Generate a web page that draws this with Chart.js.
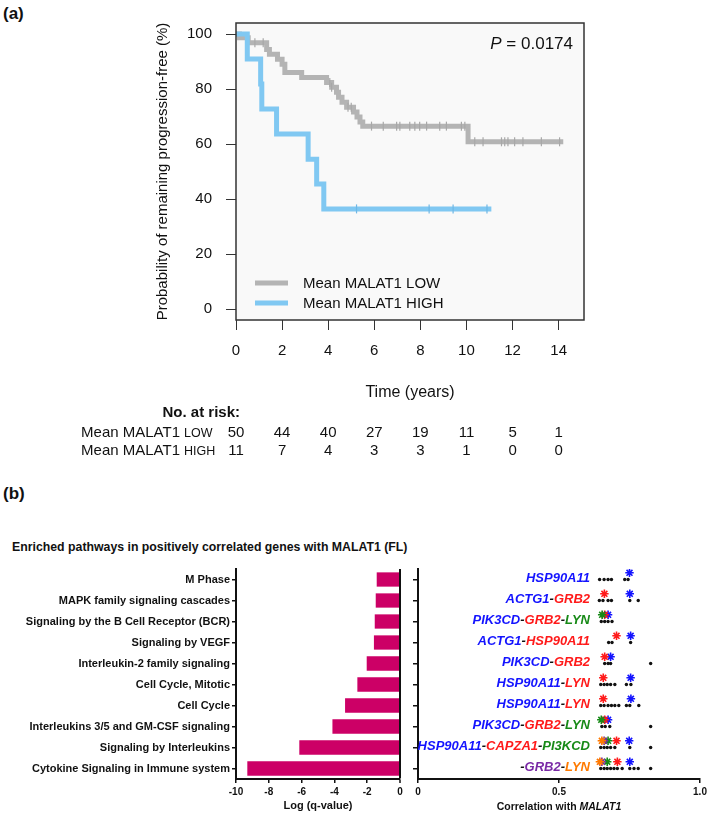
<!DOCTYPE html>
<html><head><meta charset="utf-8">
<script src="https://cdn.jsdelivr.net/npm/chart.js@4.4.1/dist/chart.umd.min.js"></script>
<style>
html,body{margin:0;padding:0;background:#fff;width:710px;height:815px;overflow:hidden;font-family:"Liberation Sans",Arial,sans-serif;color:#111;}
.abs{position:absolute;}
canvas{position:absolute;}
</style></head><body>
<div class="abs" style="left:3px;top:4px;font:bold 17px 'Liberation Sans',Arial;">(a)</div>
<canvas id="cA" width="710" height="470" style="left:0;top:0;width:710px;height:470px;"></canvas>
<div class="abs" style="left:3px;top:484px;font:bold 17px 'Liberation Sans',Arial;">(b)</div>
<div class="abs" style="left:12px;top:540px;font:bold 12.3px 'Liberation Sans',Arial;white-space:nowrap;">Enriched pathways in positively correlated genes with MALAT1 (FL)</div>
<canvas id="cB1" width="410" height="265" style="left:0;top:550px;width:410px;height:265px;"></canvas>
<canvas id="cB2" width="300" height="265" style="left:410px;top:550px;width:300px;height:265px;"></canvas>
<div class="abs" style="left:418px;width:282px;top:800px;text-align:center;font:bold 10.5px 'Liberation Sans',Arial;white-space:nowrap;">Correlation with <i>MALAT1</i></div>
<script>
// ---------- (a) Kaplan-Meier data ----------
const kmTicksX = [0, 2, 4, 6, 8, 10, 12, 14];
const kmTicksY = [0, 20, 40, 60, 80, 100];
const lowT = [0, 0.15, 0.53, 1.33, 1.45, 1.8, 2.0, 2.12, 2.85, 3.93, 4.15, 4.36, 4.45, 4.6, 4.8, 5.1, 5.25, 5.38, 5.5, 10.07, 14.2];
const lowS = [100, 98.6, 96.8, 94.4, 92.6, 90.8, 89.0, 86.0, 84.2, 82.4, 80.6, 78.8, 77.0, 75.2, 73.4, 71.6, 69.8, 68.0, 66.5, 60.8, 60.8];
const highT = [0, 0.49, 1.07, 1.12, 1.76, 3.13, 3.5, 3.81, 11.08];
const highS = [100, 90.9, 81.8, 72.7, 63.6, 54.5, 45.5, 36.4, 36.4];
const lowCensor = [0.82, 1.18, 4.07, 4.15, 4.86, 5.0, 5.88, 6.39, 6.97, 7.11, 7.54, 7.76, 7.97, 8.27, 8.84, 9.13, 9.78, 9.93, 10.36, 10.72, 11.52, 11.66, 11.80, 12.09, 12.45, 13.25, 14.04];
const highCensor = [5.23, 8.38, 9.42, 10.89];
const riskTimes = [0, 2, 4, 6, 8, 10, 12, 14];
const riskLow = [50, 44, 40, 27, 19, 11, 5, 1];
const riskHigh = [11, 7, 4, 3, 3, 1, 0, 0];
const pValueText = '= 0.0174';

// ---------- (b) pathway enrichment data ----------
const pathways = ['M Phase', 'MAPK family signaling cascades', 'Signaling by the B Cell Receptor (BCR)', 'Signaling by VEGF', 'Interleukin-2 family signaling', 'Cell Cycle, Mitotic', 'Cell Cycle', 'Interleukins 3/5 and GM-CSF signaling', 'Signaling by Interleukins', 'Cytokine Signaling in Immune system'];
const logQ = [-1.42, -1.48, -1.54, -1.59, -2.03, -2.6, -3.35, -4.12, -6.14, -9.31];
const logQTicks = [-10, -8, -6, -4, -2, 0];

// ---------- (b) correlation panel data ----------
const corrTicks = [0, 0.5, 1];
const geneLabels = [
  [['HSP90A11','b']],
  [['ACTG1','b'],['-','k'],['GRB2','r']],
  [['PIK3CD','b'],['-','k'],['GRB2','r'],['-','k'],['LYN','g']],
  [['ACTG1','b'],['-','k'],['HSP90A11','r']],
  [['PIK3CD','b'],['-','k'],['GRB2','r']],
  [['HSP90A11','b'],['-','k'],['LYN','r']],
  [['HSP90A11','b'],['-','k'],['LYN','r']],
  [['PIK3CD','b'],['-','k'],['GRB2','r'],['-','k'],['LYN','g']],
  [['HSP90A11','b'],['-','k'],['CAPZA1','r'],['-','k'],['PI3KCD','g']],
  [['-','k'],['GRB2','p'],['-','k'],['LYN','o']]
];
const corrDots = [
  [0.644, 0.660, 0.674, 0.686, 0.733, 0.745],
  [0.643, 0.656, 0.674, 0.686, 0.751, 0.781],
  [0.650, 0.662, 0.674, 0.688],
  [0.676, 0.688, 0.754],
  [0.662, 0.674, 0.683, 0.825],
  [0.648, 0.660, 0.671, 0.683, 0.698, 0.739, 0.755],
  [0.648, 0.660, 0.674, 0.686, 0.698, 0.712, 0.739, 0.751, 0.783],
  [0.652, 0.664, 0.680, 0.825],
  [0.648, 0.660, 0.671, 0.683, 0.698, 0.751, 0.825],
  [0.648, 0.660, 0.671, 0.683, 0.695, 0.707, 0.724, 0.751, 0.766, 0.781, 0.825]
];
const starsBlue = [[0,0.750],[1,0.751],[2,0.674],[3,0.754],[4,0.683],[5,0.754],[6,0.755],[7,0.674],[8,0.749],[9,0.751]];
const starsRed = [[1,0.661],[2,0.662],[3,0.704],[4,0.662],[5,0.657],[6,0.657],[7,0.662],[8,0.704],[9,0.707]];
const starsGreen = [[2,0.653],[7,0.650],[8,0.674],[9,0.671]];
const starsPurple = [[8,0.660],[9,0.652]];
const starsOrange = [[8,0.652],[9,0.645]];

// ---------- styles ----------
const FONT = "'Liberation Sans', Arial, sans-serif";
Chart.defaults.font.family = FONT;
Chart.defaults.color = '#111';
const GRAY = '#b4b4b4', BLUE = '#80c8f2', MAGENTA = '#cc0066', AXIS = '#111';
const GENE_COL = {b:'#1414ff', r:'#ff1a1a', g:'#178a17', p:'#7a2aa6', o:'#ff7a00', k:'#111'};

function stepAt(T, S, t){ let v = S[0]; for (let i=0;i<T.length;i++){ if (T[i] <= t) v = S[i]; } return v; }

const kmPlugin = {
  id: 'km',
  beforeDraw(chart){
    const {ctx, chartArea:a} = chart;
    ctx.save(); ctx.fillStyle = '#f9f9f9';
    ctx.fillRect(a.left, a.top, a.right-a.left, a.bottom-a.top); ctx.restore();
  },
  afterDatasetsDraw(chart){
    const {ctx, chartArea:a} = chart;
    ctx.save();
    ctx.strokeStyle = '#333'; ctx.lineWidth = 1.5;
    ctx.strokeRect(a.left, a.top, a.right-a.left, a.bottom-a.top);
    // legend
    const items = [[GRAY,'Mean MALAT1 LOW'],[BLUE,'Mean MALAT1 HIGH']];
    ctx.font = '15px ' + FONT; ctx.textBaseline = 'middle'; ctx.fillStyle = '#111';
    items.forEach((it, i) => {
      const y = a.bottom - 37 + i*20;
      ctx.strokeStyle = it[0]; ctx.lineWidth = 5;
      ctx.beginPath(); ctx.moveTo(a.left+19, y); ctx.lineTo(a.left+52, y); ctx.stroke();
      ctx.fillText(it[1], a.left+67, y+1);
    });
    // P value
    ctx.font = '17px ' + FONT; ctx.textAlign = 'right';
    const xr = a.right - 11, yp = a.top + 21;
    ctx.fillText(' ' + pValueText, xr, yp);
    const w = ctx.measureText(' ' + pValueText).width;
    ctx.font = 'italic 17px ' + FONT;
    ctx.fillText('P', xr - w, yp);
    ctx.restore();
  },
  afterDraw(chart){
    const {ctx} = chart; const xs = chart.scales.x;
    ctx.save(); ctx.fillStyle = '#111'; ctx.textBaseline = 'alphabetic';
    ctx.font = 'bold 15px ' + FONT; ctx.textAlign = 'right';
    ctx.fillText('No. at risk:', 240, 417);
    const rows = [['LOW', riskLow, 437], ['HIGH', riskHigh, 455]];
    rows.forEach(r => {
      ctx.font = '15px ' + FONT; ctx.textAlign = 'right';
      ctx.fillText('Mean MALAT1', 180, r[2]);
      ctx.font = '12.5px ' + FONT; ctx.textAlign = 'left';
      ctx.fillText(r[0], 184, r[2]);
      ctx.font = '15px ' + FONT; ctx.textAlign = 'center';
      r[1].forEach((n, i) => ctx.fillText(String(n), xs.getPixelForValue(riskTimes[i]), r[2]));
    });
    ctx.restore();
  }
};

new Chart(document.getElementById('cA'), {
  type: 'scatter',
  data: { datasets: [
    { label:'Mean MALAT1 LOW', data: lowT.map((t,i)=>({x:t, y:lowS[i]})), showLine:true, stepped:true,
      borderColor:GRAY, borderWidth:5, pointRadius:0, order:3 },
    { label:'Mean MALAT1 HIGH', data: highT.map((t,i)=>({x:t, y:highS[i]})), showLine:true, stepped:true,
      borderColor:BLUE, borderWidth:5, pointRadius:0, order:2 },
    { label:'censor LOW', data: lowCensor.map(t=>({x:t, y:stepAt(lowT, lowS, t)})), showLine:false,
      pointStyle:'line', rotation:90, pointRadius:4.5, borderColor:'#a8a8a8', borderWidth:1.2, order:1 },
    { label:'censor HIGH', data: highCensor.map(t=>({x:t, y:stepAt(highT, highS, t)})), showLine:false,
      pointStyle:'line', rotation:90, pointRadius:4.5, borderColor:'#6fb8e6', borderWidth:1.2, order:0 }
  ]},
  options: {
    responsive:false, animation:false, devicePixelRatio:1,
    layout:{padding:{left:150, top:20, right:126, bottom:65}},
    plugins:{legend:{display:false}, tooltip:{enabled:false}},
    scales:{
      x:{ type:'linear', min:0, max:15.1,
        afterBuildTicks: s => { s.ticks = kmTicksX.map(v=>({value:v})); },
        ticks:{font:{size:15}, color:'#111', padding:12, maxRotation:0, autoSkip:false},
        grid:{drawOnChartArea:false, tickLength:10, color:'#333', lineWidth:1},
        border:{display:false},
        title:{display:true, text:'Time (years)', font:{size:16}, color:'#111', padding:{top:0, bottom:3}},
        afterFit: s => { s.height = 85; } },
      y:{ type:'linear', min:-4, max:104,
        afterBuildTicks: s => { s.ticks = kmTicksY.map(v=>({value:v})); },
        ticks:{font:{size:15}, color:'#111', padding:14},
        grid:{drawOnChartArea:false, tickLength:10, color:'#333', lineWidth:1},
        border:{display:false},
        title:{display:true, text:'Probability of remaining progression-free (%)', font:{size:15}, color:'#111', padding:{top:4, bottom:0}},
        afterFit: s => { s.width = 86; } }
    }
  },
  plugins:[kmPlugin]
});

// ---------- (b) bar chart ----------
new Chart(document.getElementById('cB1'), {
  type:'bar',
  data:{ labels: pathways, datasets:[{ data: logQ, backgroundColor: MAGENTA, barPercentage:0.68, categoryPercentage:1 }]},
  options:{
    indexAxis:'y', responsive:false, animation:false, devicePixelRatio:1,
    layout:{padding:{left:0, right:10, top:19, bottom:0}},
    plugins:{legend:{display:false}, tooltip:{enabled:false}},
    scales:{
      x:{ min:-10, max:0,
        afterBuildTicks: s => { s.ticks = logQTicks.map(v=>({value:v})); },
        ticks:{font:{size:10, weight:'bold'}, color:'#111', padding:3, maxRotation:0, autoSkip:false},
        grid:{drawOnChartArea:true, color: c => (c.tick && c.tick.value === 0) ? AXIS : 'rgba(0,0,0,0)',
              lineWidth: c => (c.tick && c.tick.value === 0) ? 2 : 1.5, tickColor:AXIS, tickWidth:1.5, tickLength:4},
        border:{display:true, color:AXIS, width:2},
        title:{display:true, text:'Log (q-value)', font:{size:11, weight:'bold'}, color:'#111', padding:{top:0, bottom:2}},
        afterFit: s => { s.height = 36; } },
      y:{ ticks:{font:{size:11, weight:'bold'}, color:'#111', padding:2, autoSkip:false},
        grid:{drawOnChartArea:false, offset:false, tickLength:4, color:AXIS, lineWidth:1.5},
        border:{display:true, color:AXIS, width:2},
        afterFit: s => { s.width = 236; } }
    }
  }
});

// ---------- (b) correlation panel ----------
const geneLabelPlugin = {
  id:'genes',
  afterDatasetsDraw(chart){
    const {ctx} = chart; const ys = chart.scales.y;
    const xRight = chart.chartArea.left + 172;
    ctx.save(); ctx.font = 'italic bold 13px ' + FONT; ctx.textBaseline = 'middle'; ctx.textAlign = 'left';
    geneLabels.forEach((segs, i) => {
      const total = segs.reduce((s, g) => s + ctx.measureText(g[0]).width, 0);
      let x = xRight - total; const y = ys.getPixelForValue(i) - 1;
      segs.forEach(g => { ctx.fillStyle = GENE_COL[g[1]]; ctx.fillText(g[0], x, y); x += ctx.measureText(g[0]).width; });
    });
    ctx.restore();
  }
};
const STAR_OFF = 0.32;
function starSet(arr, col){
  return { data: arr.map(p => ({x:p[1], y:p[0]-STAR_OFF})), pointStyle:'star', pointRadius:4.2,
    borderColor:col, backgroundColor:col, borderWidth:1.6, showLine:false };
}
new Chart(document.getElementById('cB2'), {
  type:'scatter',
  data:{ datasets:[
    { data: corrDots.flatMap((row, i) => row.map(v => ({x:v, y:i}))), pointRadius:1.7,
      backgroundColor:'#111', borderColor:'#111', borderWidth:0, showLine:false },
    starSet(starsOrange, GENE_COL.o),
    starSet(starsPurple, GENE_COL.p),
    starSet(starsGreen, GENE_COL.g),
    starSet(starsRed, GENE_COL.r),
    starSet(starsBlue, GENE_COL.b)
  ]},
  options:{
    responsive:false, animation:false, devicePixelRatio:1,
    layout:{padding:{left:0, right:10, top:19, bottom:0}},
    plugins:{legend:{display:false}, tooltip:{enabled:false}},
    scales:{
      x:{ type:'linear', min:0, max:1,
        afterBuildTicks: s => { s.ticks = corrTicks.map(v=>({value:v})); },
        ticks:{font:{size:10, weight:'bold'}, color:'#111', padding:3, maxRotation:0, autoSkip:false,
               callback: v => v === 0 ? '0' : Number(v).toFixed(1)},
        grid:{drawOnChartArea:false, tickLength:4, color:AXIS, lineWidth:1.5},
        border:{display:true, color:AXIS, width:2},
        afterFit: s => { s.height = 36; } },
      y:{ type:'linear', min:-0.5, max:9.5, reverse:true,
        afterBuildTicks: s => { s.ticks = geneLabels.map((_, i)=>({value:i})); },
        ticks:{display:false},
        grid:{drawOnChartArea:false, tickLength:5, color:AXIS, lineWidth:1.5},
        border:{display:true, color:AXIS, width:2},
        afterFit: s => { s.width = 8; } }
    }
  },
  plugins:[geneLabelPlugin]
});
</script>
</body></html>
